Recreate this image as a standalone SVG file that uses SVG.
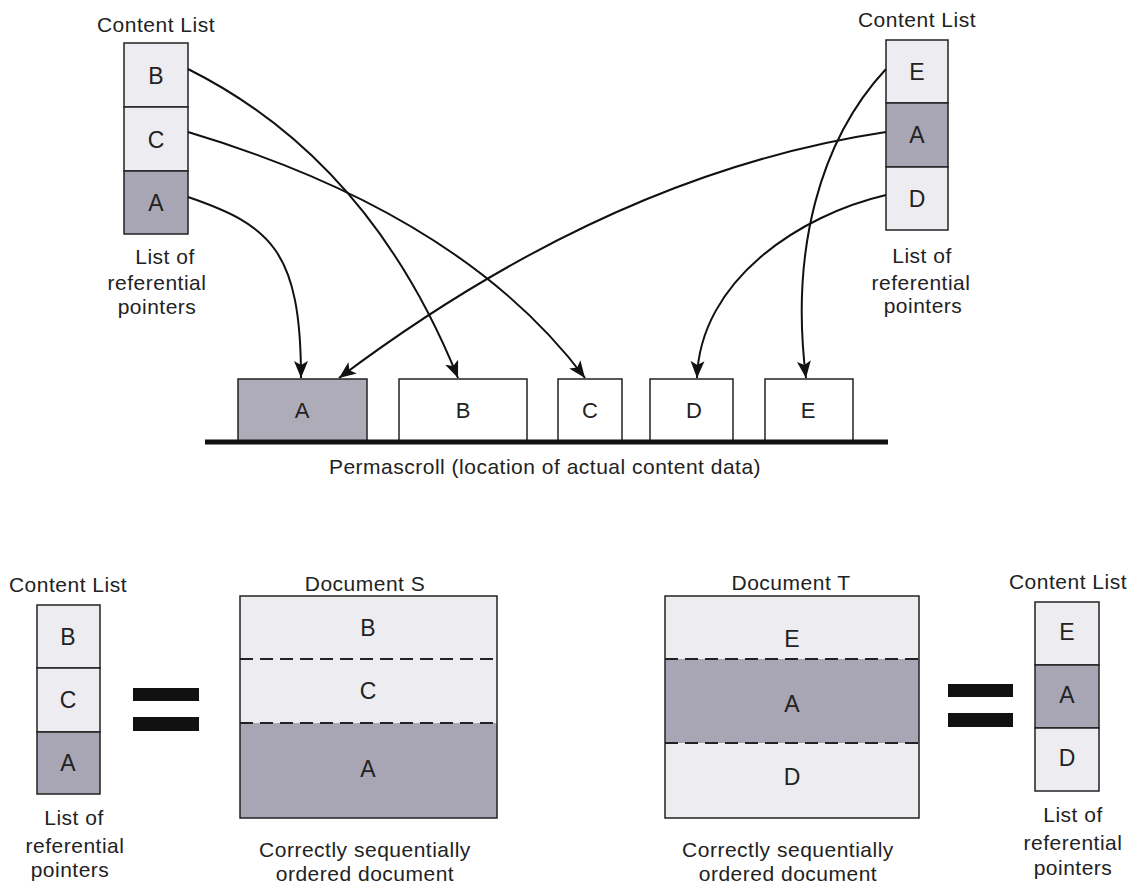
<svg xmlns="http://www.w3.org/2000/svg" width="1136" height="889" viewBox="0 0 1136 889">
<defs>
<style>
text{font-family:"Liberation Sans",Arial,sans-serif;fill:#222;text-anchor:middle}
.lbl{font-size:21px;letter-spacing:0.5px}
.cell{font-size:23px}
.big{font-size:22px}
.lt{fill:#ededf1;stroke:#222;stroke-width:1.5}
.dk{fill:#a8a6b4;stroke:#222;stroke-width:1.5}
.wh{fill:#fff;stroke:#222;stroke-width:1.5}
.dash{stroke:#222;stroke-width:1.8;stroke-dasharray:13 7;fill:none}
.conn{fill:none;stroke:#111;stroke-width:2}
.bar{fill:#111}
</style>
<marker id="ah" markerUnits="userSpaceOnUse" markerWidth="18" markerHeight="14" refX="17" refY="7" orient="auto">
<path d="M0,0 L17,7 L0,14 L4,7 z" fill="#111"/>
</marker>
</defs>
<rect width="1136" height="889" fill="#fff"/>

<g id="list-top-left">
<text class="lbl" x="156" y="32">Content List</text>
<rect class="lt" x="124" y="43" width="64" height="64"/>
<rect class="lt" x="124" y="107" width="64" height="64"/>
<rect class="dk" x="124" y="171" width="64" height="63"/>
<text class="cell" x="156" y="84">B</text>
<text class="cell" x="156" y="148">C</text>
<text class="cell" x="156" y="211">A</text>
<text class="lbl" x="165" y="264">List of</text>
<text class="lbl" x="157" y="290">referential</text>
<text class="lbl" x="157" y="314">pointers</text>
</g>

<g id="list-top-right">
<text class="lbl" x="917" y="27">Content List</text>
<rect class="lt" x="886" y="40" width="62" height="63"/>
<rect class="dk" x="886" y="103" width="62" height="64"/>
<rect class="lt" x="886" y="167" width="62" height="63"/>
<text class="cell" x="917" y="80">E</text>
<text class="cell" x="917" y="143">A</text>
<text class="cell" x="917" y="207">D</text>
<text class="lbl" x="922" y="263">List of</text>
<text class="lbl" x="921" y="290">referential</text>
<text class="lbl" x="923" y="313">pointers</text>
</g>

<g id="permascroll">
<rect class="dk" x="238" y="379" width="129" height="63" style="fill:#aeacb8"/>
<rect class="wh" x="399" y="379" width="128" height="63"/>
<rect class="wh" x="558" y="379" width="64" height="63"/>
<rect class="wh" x="650" y="379" width="83" height="63"/>
<rect class="wh" x="765" y="379" width="88" height="63"/>
<rect x="205" y="439.5" width="683" height="5" fill="#111"/>
<text class="big" x="302" y="418">A</text>
<text class="big" x="463" y="418">B</text>
<text class="big" x="590" y="418">C</text>
<text class="big" x="694" y="418">D</text>
<text class="big" x="808" y="418">E</text>
<text class="lbl" x="545" y="474">Permascroll (location of actual content data)</text>
</g>

<g id="connectors">
<path class="conn" marker-end="url(#ah)" d="M188,69 Q370,160 458,378"/>
<path class="conn" marker-end="url(#ah)" d="M188,132 Q462,214 585,378"/>
<path class="conn" marker-end="url(#ah)" d="M188,197 C270,225 301,250 301,378"/>
<path class="conn" marker-end="url(#ah)" d="M886,132 Q612,173 339,378"/>
<path class="conn" marker-end="url(#ah)" d="M886,69 C820,140 790,250 806,378"/>
<path class="conn" marker-end="url(#ah)" d="M886,195 C800,215 700,280 697,378"/>
</g>

<g id="list-bottom-left">
<text class="lbl" x="68" y="592">Content List</text>
<rect class="lt" x="37" y="605" width="63" height="63"/>
<rect class="lt" x="37" y="668" width="63" height="64"/>
<rect class="dk" x="37" y="732" width="63" height="62"/>
<text class="cell" x="68" y="645">B</text>
<text class="cell" x="68" y="708">C</text>
<text class="cell" x="68" y="771">A</text>
<text class="lbl" x="74" y="825">List of</text>
<text class="lbl" x="75" y="853">referential</text>
<text class="lbl" x="70" y="877">pointers</text>
</g>

<g id="equals-left">
<rect class="bar" x="133" y="688" width="66" height="13"/>
<rect class="bar" x="133" y="717" width="66" height="14"/>
</g>

<g id="document-s">
<text class="lbl" x="365" y="591">Document S</text>
<rect class="lt" x="240" y="596" width="257" height="127" style="stroke:none"/>
<rect class="dk" x="240" y="723" width="257" height="95" style="stroke:none"/>
<rect x="240" y="596" width="257" height="222" fill="none" stroke="#222" stroke-width="1.5"/>
<line class="dash" x1="240" y1="659" x2="497" y2="659"/>
<line class="dash" x1="240" y1="723" x2="497" y2="723"/>
<text class="cell" x="368" y="636">B</text>
<text class="cell" x="368" y="699">C</text>
<text class="cell" x="368" y="777">A</text>
<text class="lbl" x="365" y="857">Correctly sequentially</text>
<text class="lbl" x="365" y="881">ordered document</text>
</g>

<g id="document-t">
<text class="lbl" x="791" y="590">Document T</text>
<rect class="lt" x="665" y="596" width="254" height="63" style="stroke:none"/>
<rect class="dk" x="665" y="659" width="254" height="84" style="stroke:none"/>
<rect class="lt" x="665" y="743" width="254" height="75" style="stroke:none"/>
<rect x="665" y="596" width="254" height="222" fill="none" stroke="#222" stroke-width="1.5"/>
<line class="dash" x1="665" y1="659" x2="919" y2="659"/>
<line class="dash" x1="665" y1="743" x2="919" y2="743"/>
<text class="cell" x="792" y="647">E</text>
<text class="cell" x="792" y="712">A</text>
<text class="cell" x="792" y="785">D</text>
<text class="lbl" x="788" y="857">Correctly sequentially</text>
<text class="lbl" x="788" y="881">ordered document</text>
</g>

<g id="equals-right">
<rect class="bar" x="948" y="684" width="65" height="13"/>
<rect class="bar" x="948" y="713" width="65" height="14"/>
</g>

<g id="list-bottom-right">
<text class="lbl" x="1068" y="589">Content List</text>
<rect class="lt" x="1035" y="602" width="64" height="63"/>
<rect class="dk" x="1035" y="665" width="64" height="63"/>
<rect class="lt" x="1035" y="728" width="64" height="63"/>
<text class="cell" x="1067" y="640">E</text>
<text class="cell" x="1067" y="703">A</text>
<text class="cell" x="1067" y="766">D</text>
<text class="lbl" x="1073" y="822">List of</text>
<text class="lbl" x="1073" y="850">referential</text>
<text class="lbl" x="1073" y="875">pointers</text>
</g>
</svg>
